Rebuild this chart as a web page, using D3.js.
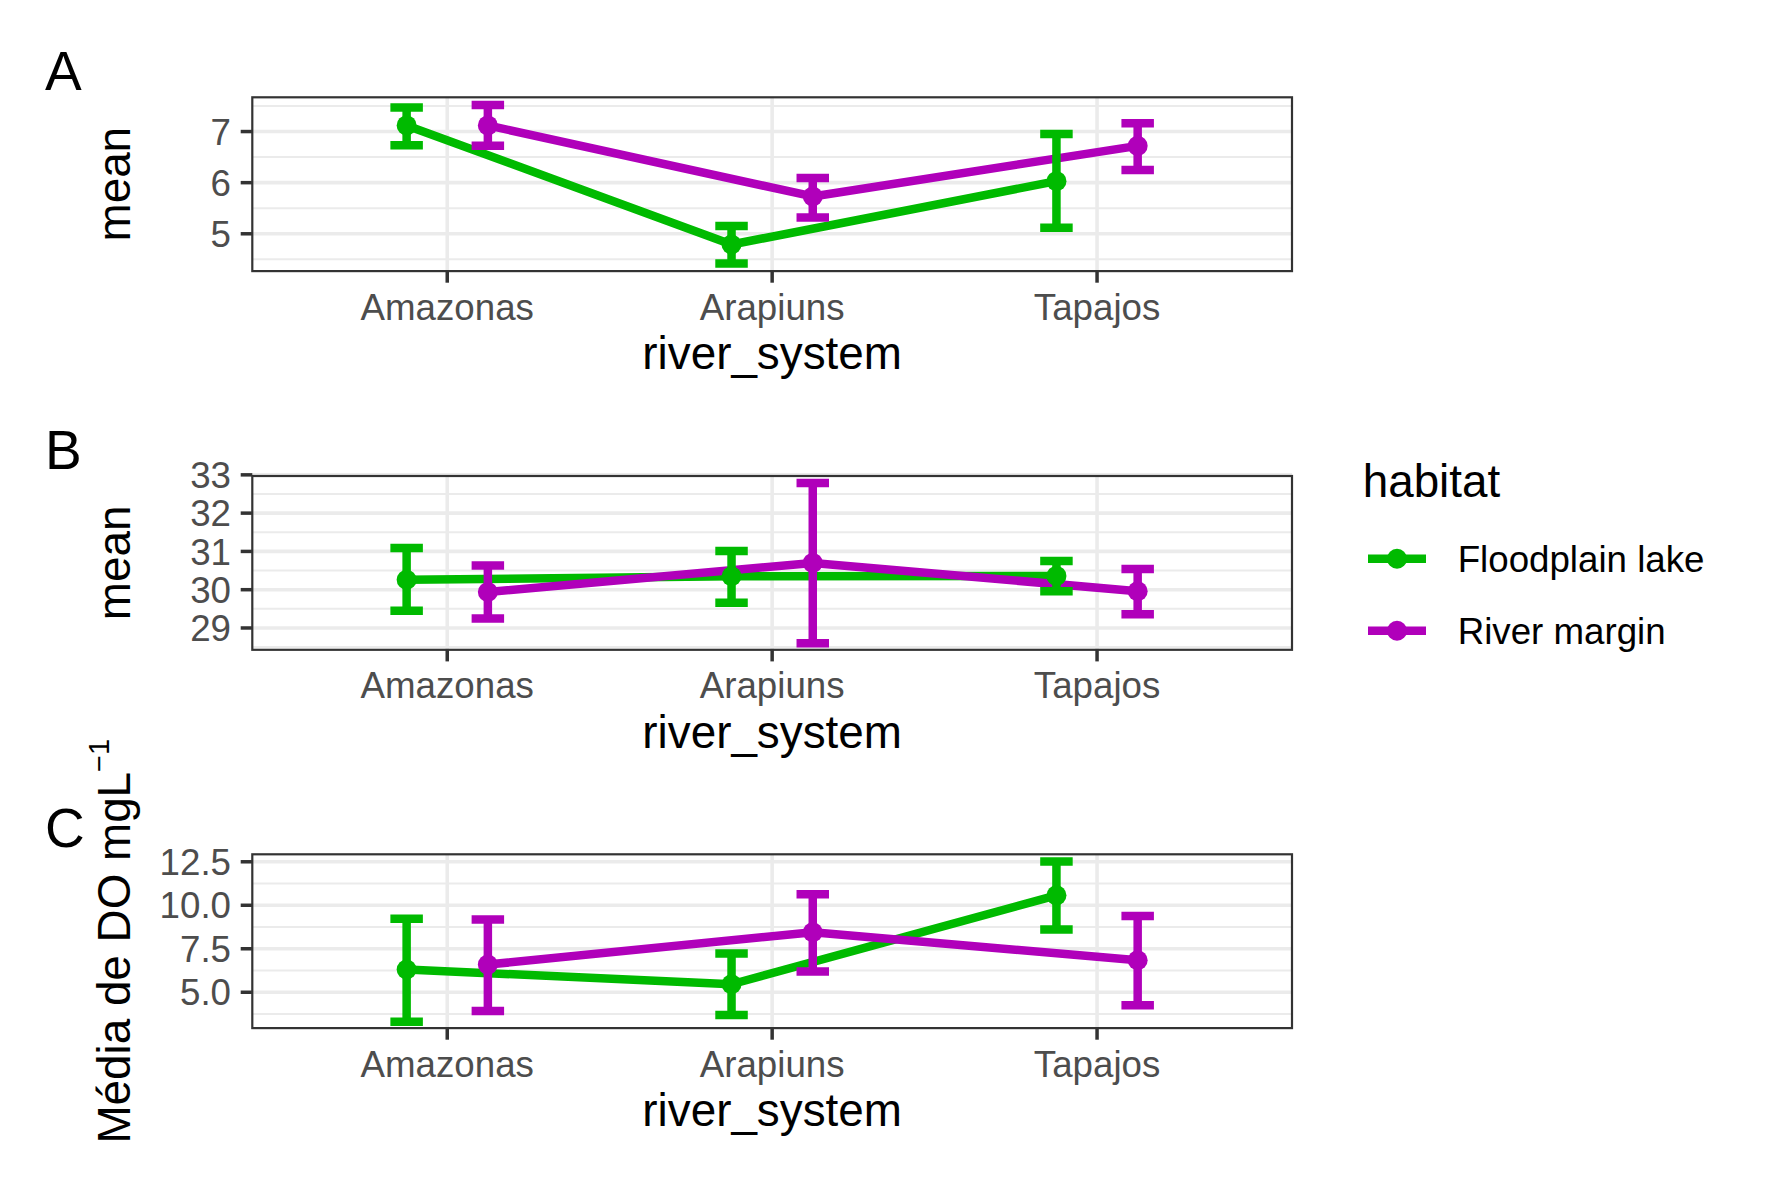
<!DOCTYPE html>
<html><head><meta charset="utf-8">
<script src="https://cdn.jsdelivr.net/npm/d3@7"></script>
<style>body{margin:0;background:#fff}svg{display:block}text{font-family:"Liberation Sans",Arial,sans-serif}</style>
</head><body>
<script>
// ---------- data ----------
const categories = ["Amazonas","Arapiuns","Tapajos"];
const habitats = ["Floodplain lake","River margin"];
const colors = ["#00BA00","#B000BA"];
const panelTags = ["A","B","C"];
// panel A
const meanA_flood = [7.12, 4.79, 6.03];
const lowA_flood  = [6.73, 4.42, 5.12];
const highA_flood = [7.47, 5.15, 6.95];
const meanA_river = [7.12, 5.73, 6.72];
const lowA_river  = [6.72, 5.32, 6.25];
const highA_river = [7.52, 6.09, 7.16];
// panel B
const meanB_flood = [30.26, 30.35, 30.36];
const lowB_flood  = [29.45, 29.66, 29.96];
const highB_flood = [31.09, 31.01, 30.75];
const meanB_river = [29.94, 30.70, 29.96];
const lowB_river  = [29.25, 28.60, 29.36];
const highB_river = [30.63, 32.79, 30.54];
// panel C
const meanC_flood = [6.31, 5.46, 10.57];
const lowC_flood  = [3.31, 3.69, 8.61];
const highC_flood = [9.22, 7.23, 12.52];
const meanC_river = [6.59, 8.45, 6.84];
const lowC_river  = [3.92, 6.19, 4.25];
const highC_river = [9.18, 10.64, 9.39];
// axes
const ticksA = [5, 6, 7];
const ticksB = [29, 30, 31, 32, 33];
const ticksC = [5.0, 7.5, 10.0, 12.5];
const tickLabelsC = ["5.0","7.5","10.0","12.5"];
const minorA = [4.5, 5.5, 6.5, 7.5];
const minorB = [28.5, 29.5, 30.5, 31.5, 32.5];
const minorC = [3.75, 6.25, 8.75, 11.25];
const domainA = [4.27, 7.67];
const domainB = [28.43, 32.97];
const domainC = [2.94, 12.93];
const xTitle = "river_system";
const yTitles = ["mean","mean","Média de DO mgL"];
const legendTitle = "habitat";

const panels = [
  {tag:"A", series:[[meanA_flood,lowA_flood,highA_flood],[meanA_river,lowA_river,highA_river]], ticks:ticksA, tickLabels:ticksA.map(String), minor:minorA, domain:domainA},
  {tag:"B", series:[[meanB_flood,lowB_flood,highB_flood],[meanB_river,lowB_river,highB_river]], ticks:ticksB, tickLabels:ticksB.map(String), minor:minorB, domain:domainB},
  {tag:"C", series:[[meanC_flood,lowC_flood,highC_flood],[meanC_river,lowC_river,highC_river]], ticks:ticksC, tickLabels:tickLabelsC, minor:minorC, domain:domainC}
];

// ---------- layout ----------
const W = 1771, H = 1181;
const L = 252.3, R = 1292;
const tops = [97.3, 476, 854.3];
const PH = 173.8;
const LW = 8.5, PR = 10;
const dodge = 0.125;
const capHalf = 0.05;

const svg = d3.select("body").append("svg").attr("width", W).attr("height", H);
const x = d3.scalePoint().domain(categories).range([L, R]).padding(0.6);
const step = x.step();

panels.forEach((p, pi) => {
  const top = tops[pi], bot = top + PH;
  const y = d3.scaleLinear().domain(p.domain).range([bot, top]);
  const g = svg.append("g");
  // background grid
  g.selectAll(".minor").data(p.minor).join("line")
    .attr("x1", L).attr("x2", R).attr("y1", d => y(d)).attr("y2", d => y(d))
    .attr("stroke", "#EBEBEB").attr("stroke-width", 2);
  g.selectAll(".major").data(p.ticks).join("line")
    .attr("x1", L).attr("x2", R).attr("y1", d => y(d)).attr("y2", d => y(d))
    .attr("stroke", "#EBEBEB").attr("stroke-width", 3.6);
  g.selectAll(".vmajor").data(categories).join("line")
    .attr("x1", d => x(d)).attr("x2", d => x(d)).attr("y1", top).attr("y2", bot)
    .attr("stroke", "#EBEBEB").attr("stroke-width", 3.6);

  const clip = "clip" + pi;
  svg.append("clipPath").attr("id", clip).append("rect").attr("x", L).attr("y", top).attr("width", R - L).attr("height", PH);
  const dg = g.append("g").attr("clip-path", `url(#${clip})`);
  const xs = (i, s) => x(categories[i]) + (s === 0 ? -dodge : dodge) * step;

  // lines
  p.series.forEach((ser, s) => {
    const line = d3.line().x((d, i) => xs(i, s)).y(d => y(d));
    dg.append("path").attr("d", line(ser[0])).attr("fill", "none")
      .attr("stroke", colors[s]).attr("stroke-width", LW).attr("stroke-linejoin", "round");
  });
  // error bars
  p.series.forEach((ser, s) => {
    ser[0].forEach((m, i) => {
      const cx = xs(i, s), lo = y(ser[1][i]), hi = y(ser[2][i]), hw = capHalf * step;
      const path = `M${cx},${lo}L${cx},${hi}M${cx - hw},${hi}L${cx + hw},${hi}M${cx - hw},${lo}L${cx + hw},${lo}`;
      dg.append("path").attr("d", path).attr("fill", "none")
        .attr("stroke", colors[s]).attr("stroke-width", LW).attr("stroke-linecap", "butt");
    });
  });
  // points
  p.series.forEach((ser, s) => {
    dg.selectAll(null).data(ser[0]).join("circle")
      .attr("cx", (d, i) => xs(i, s)).attr("cy", d => y(d)).attr("r", PR).attr("fill", colors[s]);
  });

  // border
  g.append("rect").attr("x", L).attr("y", top).attr("width", R - L).attr("height", PH)
    .attr("fill", "none").attr("stroke", "#333333").attr("stroke-width", 2.2);

  // y axis ticks
  p.ticks.forEach((t, k) => {
    g.append("line").attr("x1", L - 11.6).attr("x2", L).attr("y1", y(t)).attr("y2", y(t))
      .attr("stroke", "#333333").attr("stroke-width", 3.5);
    g.append("text").attr("x", 231).attr("y", y(t)).attr("dy", "0.36em").attr("text-anchor", "end")
      .attr("font-size", 36.7).attr("fill", "#4D4D4D").text(p.tickLabels[k]);
  });
  // x axis ticks
  categories.forEach(c => {
    g.append("line").attr("x1", x(c)).attr("x2", x(c)).attr("y1", bot).attr("y2", bot + 11.6)
      .attr("stroke", "#333333").attr("stroke-width", 3.5);
    g.append("text").attr("x", x(c)).attr("y", bot + 48.5).attr("text-anchor", "middle")
      .attr("font-size", 36.7).attr("fill", "#4D4D4D").text(c);
  });
  // x title
  g.append("text").attr("x", (L + R) / 2).attr("y", bot + 98).attr("text-anchor", "middle")
    .attr("font-size", 45.8).attr("fill", "#000").text(xTitle);
  // y title
  const cy = (top + bot) / 2;
  const yt = g.append("text").attr("transform", `translate(129.5,${cy}) rotate(-90)`)
    .attr("text-anchor", "middle").attr("font-size", 45.8).attr("fill", "#000");
  yt.append("tspan").text(yTitles[pi]);
  if (pi === 2) {
    yt.append("tspan").attr("dy", -21).attr("font-size", 29).text("\u22121");
  }
  // tag
  g.append("text").attr("x", 45).attr("y", top - 7.3).attr("font-size", 55).attr("fill", "#000").text(p.tag);
});

// legend
const lg = svg.append("g");
lg.append("text").attr("x", 1362.7).attr("y", 497).attr("font-size", 45.8).attr("fill", "#000").text(legendTitle);
const keyY = [558.7, 630.7];
habitats.forEach((h, i) => {
  lg.append("line").attr("x1", 1368).attr("x2", 1426).attr("y1", keyY[i]).attr("y2", keyY[i])
    .attr("stroke", colors[i]).attr("stroke-width", LW);
  lg.append("circle").attr("cx", 1397).attr("cy", keyY[i]).attr("r", PR).attr("fill", colors[i]);
  lg.append("text").attr("x", 1457.7).attr("y", keyY[i]).attr("dy", "0.36em")
    .attr("font-size", 36.7).attr("fill", "#000").text(h);
});
</script>
</body></html>
